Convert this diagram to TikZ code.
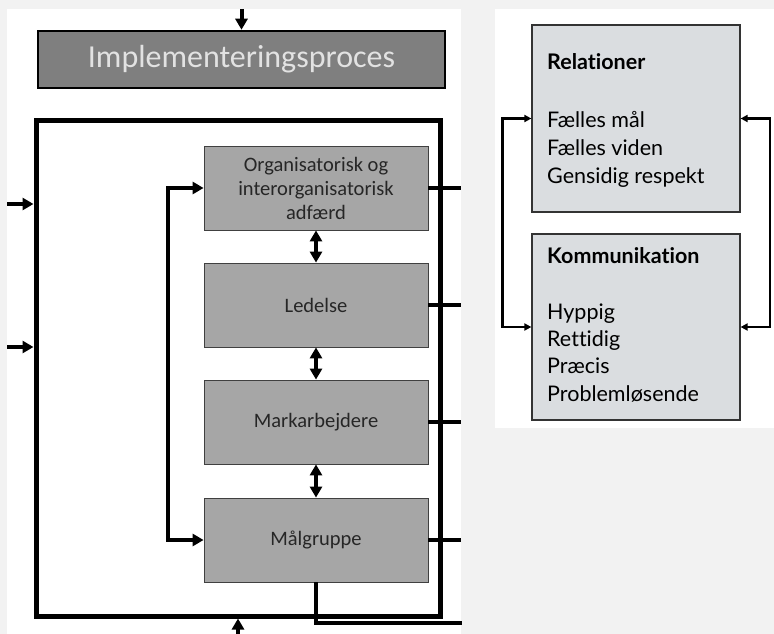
\documentclass[tikz,border=0pt]{standalone}
\usepackage{fontspec}
\setmainfont{Carlito}
\newfontfamily\gillfont[Ligatures=NoCommon]{Lato}
\usetikzlibrary{arrows.meta}
\definecolor{bgc}{HTML}{F2F2F2}
\definecolor{impfill}{HTML}{7F7F7F}
\definecolor{imptext}{HTML}{E2E2E2}
\definecolor{boxfill}{HTML}{A6A6A6}
\definecolor{relfill}{HTML}{DADDE0}
\definecolor{boxline}{HTML}{404040}
\tikzset{
  bigarrow/.style={line width=4pt, arrows={-Triangle[length=11pt,width=12pt]}},
  dblarrow/.style={line width=4pt, arrows={Triangle[length=11pt,width=12pt]-Triangle[length=11pt,width=12pt]}},
  plainline/.style={line width=4pt},
  smallarrows/.style={line width=2.2pt, arrows={Triangle[length=7pt,width=7pt]-Triangle[length=7pt,width=7pt]}},
  innerbox/.style={draw=boxline, line width=0.8pt, fill=boxfill, minimum width=224pt, minimum height=84pt, inner sep=0pt, align=center, font=\fontsize{20.5}{24}\selectfont, text=black!85},
  sidebox/.style={draw=black!80, line width=1.2pt, fill=relfill, minimum width=208pt, inner sep=0pt},
  sidetext/.style={anchor=base west, inner sep=0pt, font=\gillfont\fontsize{21.5}{26}\selectfont},
}
\begin{document}
\begin{tikzpicture}[x=1pt,y=-1pt]
\useasboundingbox (0,0) rectangle (774,634);
\fill[bgc] (0,0) rectangle (774,634);
\fill[white] (7,9) rectangle (461,634);
\fill[white] (495,9) rectangle (774,428);

% left panel
\node[draw=black, line width=2.5pt, fill=impfill, minimum width=407pt, minimum height=57pt, inner sep=0pt,
      font=\fontsize{32}{36}\selectfont, text=imptext] (impl) at (241.5,59.5) {Implementeringsproces};
\coordinate (top) at (241.5,9);
\draw[bigarrow] (top) -- (impl.north);

\node[draw=black, line width=5pt, minimum width=404pt, minimum height=496pt, inner sep=0pt] (frame) at (238,368) {};

\node[innerbox] (org) at (316,188) {Organisatorisk og\\interorganisatorisk\\adfærd};
\node[innerbox] (led) at (316,305) {Ledelse};
\node[innerbox] (mark) at (316,422) {Markarbejdere};
\node[innerbox] (malg) at (316,540) {Målgruppe};

\draw[dblarrow] (org.south) -- (led.north);
\draw[dblarrow] (led.south) -- (mark.north);
\draw[dblarrow] (mark.south) -- (malg.north);

\draw[dblarrow] (malg.west) -- ++(-36,0) |- (org.west);

\coordinate (in1) at (7,204);
\coordinate (in2) at (7,347);
\draw[bigarrow] (in1) -- (in1 -| frame.west);
\draw[bigarrow] (in2) -- (in2 -| frame.west);

\coordinate (bot) at (238,634);
\draw[bigarrow] (bot) -- (bot |- frame.south);

\draw[plainline] (org.east) -- ++(33,0);
\draw[plainline] (led.east) -- ++(33,0);
\draw[plainline] (mark.east) -- ++(33,0);
\draw[plainline] (malg.east) -- ++(33,0);
\draw[plainline] (malg.south) -- ++(0,41) -- ++(146,0);

% right panel
\node[sidebox, minimum height=187pt] (rel) at (636,118.5) {};
\node[sidebox, minimum height=186pt] (kom) at (636,327) {};

\node[sidetext, font=\gillfont\bfseries\fontsize{21.5}{26}\selectfont] (r0) at (547,70) {Relationer};
\node[sidetext] (r1) at (547,127) {Fælles mål};
\node[sidetext] (r2) at (547,155) {Fælles viden};
\node[sidetext] (r3) at (547,183) {Gensidig respekt};

\node[sidetext, font=\gillfont\bfseries\fontsize{21.5}{26}\selectfont] (k0) at (547,263) {Kommunikation};
\node[sidetext] (k1) at (547,319) {Hyppig};
\node[sidetext] (k2) at (547,346) {Rettidig};
\node[sidetext] (k3) at (547,373) {Præcis};
\node[sidetext] (k4) at (547,401) {Problemløsende};

\draw[smallarrows] (kom.west) -- ++(-29,0) |- (rel.west);
\draw[smallarrows] (kom.east) -- ++(29,0) |- (rel.east);
\end{tikzpicture}
\end{document}
